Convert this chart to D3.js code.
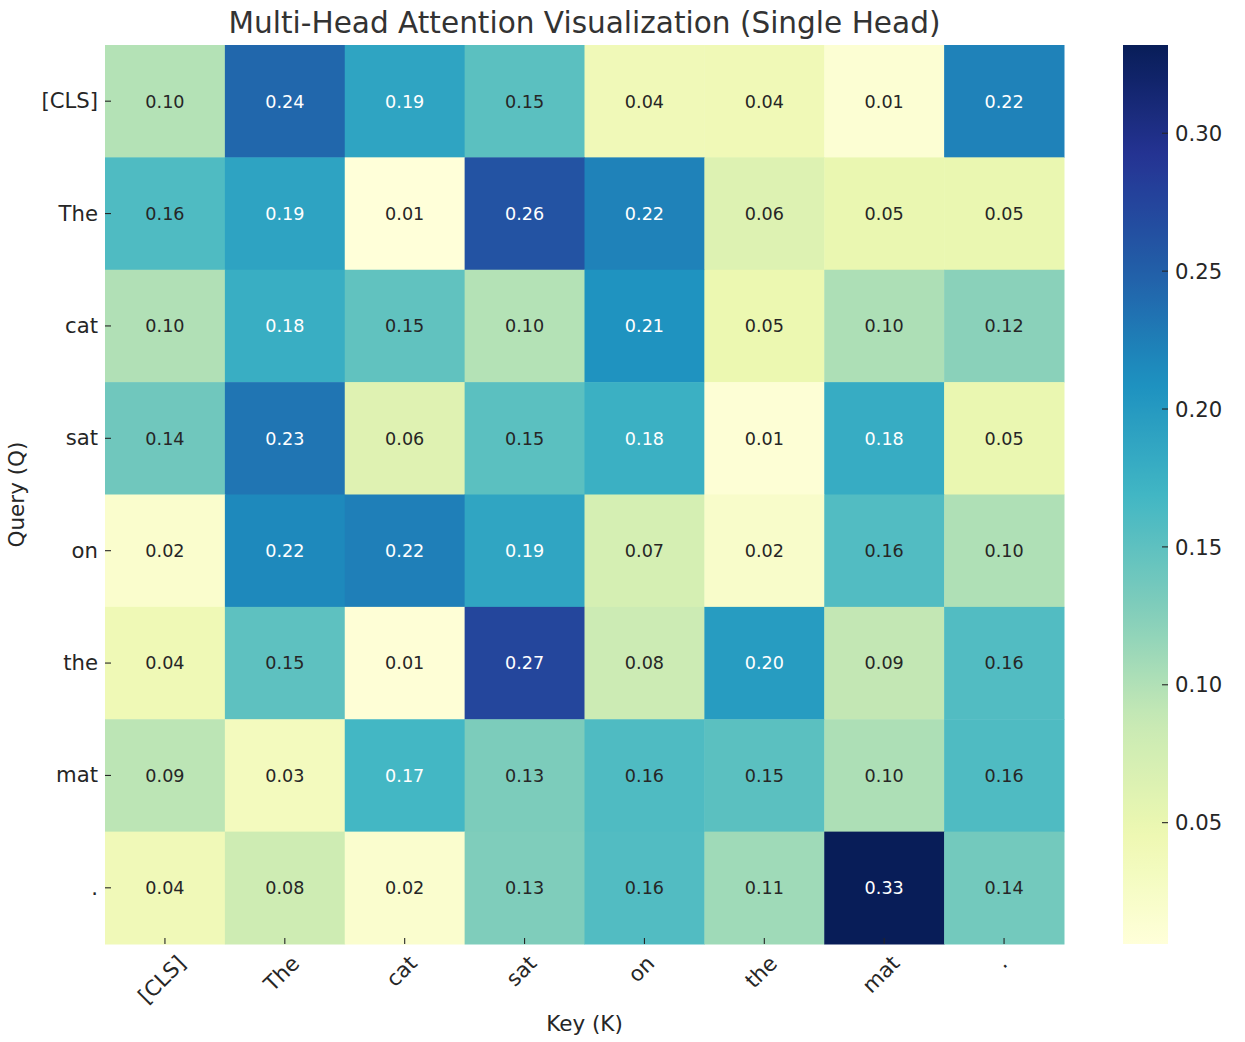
<!DOCTYPE html>
<html>
<head>
<meta charset="utf-8">
<style>
  body { margin: 0; background: #fff; }
  text { font-family: "DejaVu Sans", sans-serif; fill: #262626; }
</style>
</head>
<body>
<svg id="chart" width="1245" height="1042"></svg>
<script src="https://d3js.org/d3.v7.min.js"></script>
<script>
// tokens for both axes
var keyTokens = ["[CLS]", "The", "cat", "sat", "on", "the", "mat", "."];
var queryTokens = ["[CLS]", "The", "cat", "sat", "on", "the", "mat", "."];

// attention weights, one row per query
var rowCLS = [0.098, 0.243, 0.189, 0.152, 0.040, 0.041, 0.012, 0.222];
var rowThe = [0.160, 0.190, 0.006, 0.261, 0.222, 0.064, 0.050, 0.050];
var rowCat = [0.100, 0.178, 0.148, 0.098, 0.207, 0.048, 0.102, 0.122];
var rowSat = [0.138, 0.232, 0.062, 0.152, 0.176, 0.010, 0.180, 0.050];
var rowOn = [0.018, 0.216, 0.224, 0.188, 0.072, 0.021, 0.158, 0.101];
var rowThe2 = [0.042, 0.150, 0.009, 0.274, 0.082, 0.198, 0.090, 0.158];
var rowMat = [0.094, 0.034, 0.168, 0.130, 0.160, 0.152, 0.102, 0.160];
var rowDot = [0.040, 0.080, 0.017, 0.128, 0.158, 0.110, 0.332, 0.136];
var weights = [rowCLS, rowThe, rowCat, rowSat, rowOn, rowThe2, rowMat, rowDot];

var colorbarTicks = [0.05, 0.10, 0.15, 0.20, 0.25, 0.30];

// matplotlib YlGnBu control colours
var ylgnbu = ["#ffffd9", "#edf8b1", "#c7e9b4", "#7fcdbb", "#41b6c4", "#1d91c0", "#225ea8", "#253494", "#081d58"];

var svg = d3.select("#chart");
var plotLeft = 105, plotRight = 1064, plotTop = 45, plotBottom = 944;
var cbLeft = 1123, cbRight = 1168;
var tickSize = 21.2, labelSize = 21.5;

var flat = [];
weights.forEach(function (row, i) {
  row.forEach(function (v, j) { flat.push({ row: i, q: queryTokens[i], k: keyTokens[j], v: v }); });
});
var vmin = d3.min(flat, d => d.v), vmax = d3.max(flat, d => d.v);

var color = d3.scaleLinear()
  .domain(ylgnbu.map((c, i) => vmin + (vmax - vmin) * i / (ylgnbu.length - 1)))
  .range(ylgnbu)
  .interpolate(d3.interpolateRgb)
  .clamp(true);

var x = d3.scaleBand().domain(keyTokens).range([plotLeft, plotRight]);
var y = d3.scaleBand().domain(d3.range(queryTokens.length)).range([plotTop, plotBottom]);

// cells
svg.append("g").selectAll("rect")
  .data(flat)
  .enter()
  .append("rect")
  .attr("x", d => x(d.k))
  .attr("y", d => y(d.row))
  .attr("width", x.bandwidth() + 0.5)
  .attr("height", y.bandwidth() + 0.5)
  .attr("fill", d => color(d.v));

function luminance(c) {
  var rgb = d3.rgb(c);
  var ch = [rgb.r, rgb.g, rgb.b].map(function (u) {
    u = u / 255;
    return u <= 0.03928 ? u / 12.92 : Math.pow((u + 0.055) / 1.055, 2.4);
  });
  return 0.2126 * ch[0] + 0.7152 * ch[1] + 0.0722 * ch[2];
}

// annotations
svg.append("g").selectAll("text")
  .data(flat)
  .enter()
  .append("text")
  .attr("x", d => x(d.k) + x.bandwidth() / 2)
  .attr("y", d => y(d.row) + y.bandwidth() / 2)
  .attr("dy", "0.36em")
  .attr("text-anchor", "middle")
  .style("font-size", "17.6px")
  .style("fill", d => luminance(color(d.v)) > 0.408 ? "#262626" : "#ffffff")
  .text(d => d3.format(".2f")(d.v));

// y axis ticks + labels
var yAxis = svg.append("g");
queryTokens.forEach(function (t, i) {
  var cy = y(i) + y.bandwidth() / 2;
  yAxis.append("line")
    .attr("x1", plotLeft).attr("x2", plotLeft + 6)
    .attr("y1", cy).attr("y2", cy)
    .attr("stroke", "#262626").attr("stroke-width", 1.1);
  yAxis.append("text")
    .attr("x", plotLeft - 7)
    .attr("y", cy)
    .attr("dy", "0.33em")
    .attr("text-anchor", "end")
    .style("font-size", tickSize + "px")
    .text(t);
});

// x axis ticks + rotated labels
var xAxis = svg.append("g");
keyTokens.forEach(function (t) {
  var cx = x(t) + x.bandwidth() / 2;
  xAxis.append("line")
    .attr("x1", cx).attr("x2", cx)
    .attr("y1", plotBottom).attr("y2", plotBottom - 6)
    .attr("stroke", "#262626").attr("stroke-width", 1.1);
  var lbl = xAxis.append("text")
    .attr("text-anchor", "middle")
    .attr("dy", "0.33em")
    .style("font-size", tickSize + "px")
    .text(t);
  var w = lbl.node().getComputedTextLength();
  var h = tickSize * 1.17;
  var H = (w + h) / Math.SQRT2;
  lbl.attr("transform", "translate(" + (cx - 3) + "," + (plotBottom + 7 + H / 2) + ") rotate(-45)");
});

// colorbar
var cbScale = d3.scaleLinear().domain([vmin, vmax]).range([plotBottom, plotTop]);
var grad = svg.append("defs").append("linearGradient")
  .attr("id", "cbgrad")
  .attr("x1", 0).attr("y1", 1).attr("x2", 0).attr("y2", 0);
d3.range(0, 1.0001, 0.02).forEach(function (f) {
  grad.append("stop")
    .attr("offset", f)
    .attr("stop-color", color(vmin + f * (vmax - vmin)));
});
svg.append("rect")
  .attr("x", cbLeft).attr("y", plotTop)
  .attr("width", cbRight - cbLeft).attr("height", plotBottom - plotTop)
  .attr("fill", "url(#cbgrad)");

var cbAxis = svg.append("g");
colorbarTicks.forEach(function (v) {
  var ty = cbScale(v);
  cbAxis.append("line")
    .attr("x1", cbRight - 6).attr("x2", cbRight)
    .attr("y1", ty).attr("y2", ty)
    .attr("stroke", "#262626").attr("stroke-width", 1.1);
  cbAxis.append("text")
    .attr("x", cbRight + 7)
    .attr("y", ty)
    .attr("dy", "0.36em")
    .style("font-size", tickSize + "px")
    .text(d3.format(".2f")(v));
});

// title and axis labels
var title = svg.append("text")
  .attr("x", (plotLeft + plotRight) / 2)
  .attr("y", 33)
  .attr("text-anchor", "middle")
  .style("font-size", "28.4px")
  .style("fill", "#333333")
  .text("Multi-Head Attention Visualization (Single Head)");
// matplotlib's glyph spacing is a bit wider than the browser's; match the span
var tw = title.node().getComputedTextLength();
title.style("font-size", (28.4 * Math.min(1.08, 712 / tw)) + "px");

svg.append("text")
  .attr("x", (plotLeft + plotRight) / 2)
  .attr("y", 1031)
  .attr("text-anchor", "middle")
  .style("font-size", labelSize + "px")
  .text("Key (K)");

svg.append("text")
  .attr("transform", "translate(24," + ((plotTop + plotBottom) / 2) + ") rotate(-90)")
  .attr("text-anchor", "middle")
  .style("font-size", labelSize + "px")
  .text("Query (Q)");
</script>
</body>
</html>
